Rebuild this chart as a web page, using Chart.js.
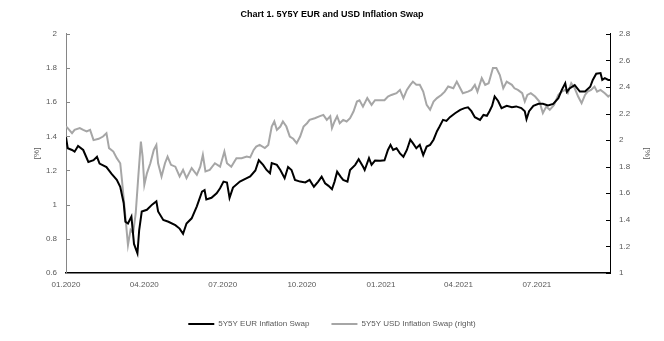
<!DOCTYPE html>
<html>
<head>
<meta charset="utf-8">
<script src="https://cdn.jsdelivr.net/npm/chart.js@4"></script>
<style>
  html, body { margin: 0; padding: 0; background: #fff; }
  #wrap { width: 664px; height: 341px; }
</style>
</head>
<body>
<div id="wrap"><canvas id="swapChart"></canvas></div>
<script>
// Days since 01.01.2020 and values
const eurDay = [0, 2, 7, 10, 14, 20, 26, 32, 36, 39, 47, 53, 59, 63, 67, 69, 72, 76, 79, 83, 85, 88, 94, 100, 105, 107, 113, 119, 127, 132, 136, 140, 146, 152, 158, 161, 163, 169, 175, 179, 183, 187, 190, 194, 202, 210, 214, 220, 224, 229, 233, 237, 239, 245, 249, 254, 258, 262, 266, 272, 278, 283, 288, 293, 297, 301, 305, 309, 312, 315, 319, 322, 327, 330, 336, 340, 345, 347, 352, 355, 359, 365, 370, 374, 377, 380, 384, 388, 392, 396, 400, 403, 407, 411, 415, 419, 423, 427, 431, 434, 438, 442, 446, 452, 458, 463, 467, 471, 475, 481, 485, 489, 492, 495, 498, 502, 506, 512, 518, 523, 529, 533, 535, 538, 543, 549, 554, 560, 566, 572, 576, 580, 582, 585, 591, 597, 603, 609, 612, 616, 621, 623, 626, 630, 632]
const eurValue = [1.395, 1.33, 1.32, 1.31, 1.344, 1.32, 1.25, 1.26, 1.28, 1.24, 1.22, 1.18, 1.145, 1.105, 1.01, 0.9, 0.89, 0.93, 0.77, 0.715, 0.85, 0.96, 0.97, 1.0, 1.02, 0.96, 0.91, 0.9, 0.88, 0.86, 0.83, 0.89, 0.92, 0.99, 1.076, 1.085, 1.03, 1.04, 1.067, 1.096, 1.135, 1.13, 1.04, 1.1, 1.135, 1.155, 1.165, 1.2, 1.26, 1.233, 1.203, 1.184, 1.243, 1.233, 1.203, 1.155, 1.22, 1.203, 1.145, 1.135, 1.13, 1.145, 1.105, 1.135, 1.164, 1.125, 1.11, 1.09, 1.135, 1.193, 1.164, 1.145, 1.135, 1.203, 1.233, 1.266, 1.223, 1.203, 1.272, 1.233, 1.258, 1.257, 1.26, 1.32, 1.35, 1.32, 1.33, 1.3, 1.28, 1.32, 1.38, 1.36, 1.33, 1.35, 1.29, 1.34, 1.35, 1.38, 1.43, 1.457, 1.496, 1.49, 1.512, 1.535, 1.555, 1.565, 1.57, 1.547, 1.512, 1.496, 1.525, 1.52, 1.547, 1.578, 1.633, 1.607, 1.565, 1.578, 1.57, 1.575, 1.565, 1.547, 1.5, 1.547, 1.578, 1.59, 1.59, 1.58, 1.59, 1.623, 1.672, 1.711, 1.66, 1.68, 1.7, 1.662, 1.662, 1.69, 1.73, 1.766, 1.77, 1.73, 1.74, 1.73, 1.73]

const usdDay = [0, 2, 7, 10, 16, 20, 24, 28, 32, 38, 43, 47, 50, 55, 59, 63, 65, 69, 72, 75, 78, 81, 84, 87, 89, 91, 94, 98, 102, 105, 107, 111, 115, 118, 122, 127, 132, 136, 140, 146, 152, 156, 159, 162, 167, 173, 179, 184, 187, 192, 198, 204, 210, 214, 218, 221, 225, 231, 235, 239, 242, 245, 249, 252, 256, 260, 264, 268, 272, 276, 280, 283, 289, 295, 299, 303, 307, 309, 312, 315, 318, 322, 326, 330, 334, 338, 341, 345, 350, 355, 359, 365, 370, 374, 378, 384, 388, 392, 396, 400, 403, 407, 411, 415, 419, 423, 427, 431, 436, 440, 444, 450, 454, 458, 461, 467, 471, 475, 478, 483, 487, 491, 496, 500, 504, 508, 512, 518, 521, 525, 530, 533, 536, 540, 545, 550, 554, 558, 562, 567, 572, 576, 580, 583, 587, 591, 595, 599, 603, 606, 610, 614, 617, 621, 626, 630, 632]
const usdValue = [2.102, 2.09, 2.052, 2.077, 2.09, 2.077, 2.065, 2.077, 2.0, 2.01, 2.027, 2.052, 1.94, 1.914, 1.864, 1.826, 1.7, 1.424, 1.21, 1.324, 1.3, 1.45, 1.726, 1.989, 1.876, 1.663, 1.75, 1.826, 1.926, 1.964, 1.826, 1.726, 1.826, 1.876, 1.814, 1.8, 1.726, 1.776, 1.714, 1.789, 1.739, 1.8, 1.889, 1.764, 1.776, 1.826, 1.8, 1.914, 1.826, 1.8, 1.864, 1.864, 1.876, 1.87, 1.926, 1.951, 1.964, 1.94, 1.964, 2.102, 2.14, 2.077, 2.102, 2.14, 2.102, 2.027, 2.01, 1.977, 2.027, 2.102, 2.127, 2.152, 2.165, 2.18, 2.19, 2.152, 2.18, 2.09, 2.14, 2.18, 2.127, 2.152, 2.14, 2.165, 2.215, 2.29, 2.3, 2.252, 2.316, 2.265, 2.3, 2.3, 2.3, 2.328, 2.34, 2.353, 2.378, 2.316, 2.378, 2.416, 2.44, 2.416, 2.416, 2.365, 2.265, 2.228, 2.29, 2.316, 2.34, 2.365, 2.403, 2.39, 2.44, 2.39, 2.353, 2.365, 2.378, 2.416, 2.365, 2.466, 2.416, 2.428, 2.542, 2.542, 2.49, 2.39, 2.44, 2.416, 2.39, 2.378, 2.353, 2.29, 2.34, 2.353, 2.328, 2.29, 2.203, 2.252, 2.228, 2.265, 2.34, 2.365, 2.378, 2.353, 2.428, 2.39, 2.328, 2.278, 2.34, 2.365, 2.378, 2.403, 2.365, 2.378, 2.353, 2.328, 2.34]

// x axis ticks (days since 01.01.2020)
const tickDays = [0, 91, 182, 274, 366, 456, 547]
const tickLabels = ["01.2020", "04.2020", "07.2020", "10.2020", "01.2021", "04.2021", "07.2021"]

const fontFamily = "'Liberation Sans', Arial, sans-serif"
const labelColor = "#595959"

// Excel style tick marks drawn on the inside of the value axes
const innerTicks = {
  id: "innerTicks",
  afterDraw(chart) {
    const ctx = chart.ctx
    const area = chart.chartArea
    ctx.save()
    ctx.lineWidth = 1
    chart.scales.y.ticks.forEach((t) => {
      const py = Math.round(chart.scales.y.getPixelForValue(t.value)) + 0.5
      ctx.strokeStyle = "#868686"
      ctx.beginPath()
      ctx.moveTo(area.left, py)
      ctx.lineTo(area.left + 4, py)
      ctx.stroke()
    })
    chart.scales.y1.ticks.forEach((t) => {
      const py = Math.round(chart.scales.y1.getPixelForValue(t.value)) + 0.5
      ctx.strokeStyle = "#000000"
      ctx.beginPath()
      ctx.moveTo(area.right, py)
      ctx.lineTo(area.right - 4, py)
      ctx.stroke()
    })
    ctx.restore()
  },
}

const fmt = (v) => String(Math.round(v * 10) / 10)

new Chart(document.getElementById("swapChart"), {
  type: "line",
  data: {
    datasets: [
      {
        label: "5Y5Y EUR Inflation Swap",
        data: eurDay.map((d, i) => ({ x: d, y: eurValue[i] })),
        borderColor: "#000000",
        backgroundColor: "#000000",
        borderWidth: 2,
        pointRadius: 0,
        tension: 0,
        yAxisID: "y",
      },
      {
        label: "5Y5Y USD Inflation Swap (right)",
        data: usdDay.map((d, i) => ({ x: d, y: usdValue[i] })),
        borderColor: "#a6a6a6",
        backgroundColor: "#a6a6a6",
        borderWidth: 2,
        pointRadius: 0,
        tension: 0,
        yAxisID: "y1",
      },
    ],
  },
  options: {
    responsive: true,
    maintainAspectRatio: false,
    animation: false,
    layout: { padding: { top: 0, bottom: 3, left: 0, right: 0 } },
    plugins: {
      title: {
        display: true,
        text: "Chart 1. 5Y5Y EUR and USD Inflation Swap",
        color: "#000000",
        font: { family: fontFamily, size: 9, weight: "bold" },
        padding: { top: 9, bottom: 14 },
      },
      legend: {
        position: "bottom",
        labels: {
          color: labelColor,
          font: { family: fontFamily, size: 8 },
          usePointStyle: true,
          pointStyle: "line",
          pointStyleWidth: 26,
          padding: 22,
        },
      },
      tooltip: { enabled: false },
    },
    scales: {
      x: {
        type: "linear",
        min: 0,
        max: 632,
        afterBuildTicks: (scale) => {
          scale.ticks = tickDays.map((v) => ({ value: v }))
        },
        afterFit: (scale) => {
          scale.height = 25
        },
        ticks: {
          autoSkip: false,
          maxRotation: 0,
          padding: 7,
          color: labelColor,
          font: { family: fontFamily, size: 8 },
          callback: (value, index) => tickLabels[index],
        },
        grid: { drawOnChartArea: false, drawTicks: false },
        border: { color: "#000000", width: 1.5 },
      },
      y: {
        position: "left",
        min: 0.6,
        max: 2,
        afterFit: (scale) => {
          scale.width = 66
        },
        ticks: {
          stepSize: 0.2,
          padding: 9,
          color: labelColor,
          font: { family: fontFamily, size: 8 },
          callback: fmt,
        },
        title: {
          display: true,
          text: "[%]",
          color: labelColor,
          font: { family: fontFamily, size: 8 },
          padding: { top: 32, bottom: 0 },
        },
        grid: { drawOnChartArea: false, drawTicks: false },
        border: { color: "#868686", width: 1 },
      },
      y1: {
        position: "right",
        min: 1,
        max: 2.8,
        afterFit: (scale) => {
          scale.width = 54
        },
        ticks: {
          stepSize: 0.2,
          padding: 9,
          color: labelColor,
          font: { family: fontFamily, size: 8 },
          callback: fmt,
        },
        title: {
          display: true,
          text: "[%]",
          color: labelColor,
          font: { family: fontFamily, size: 8 },
          padding: { top: 12, bottom: 0 },
        },
        grid: { drawOnChartArea: false, drawTicks: false },
        border: { color: "#000000", width: 1 },
      },
    },
  },
  plugins: [innerTicks],
})
</script>
</body>
</html>
